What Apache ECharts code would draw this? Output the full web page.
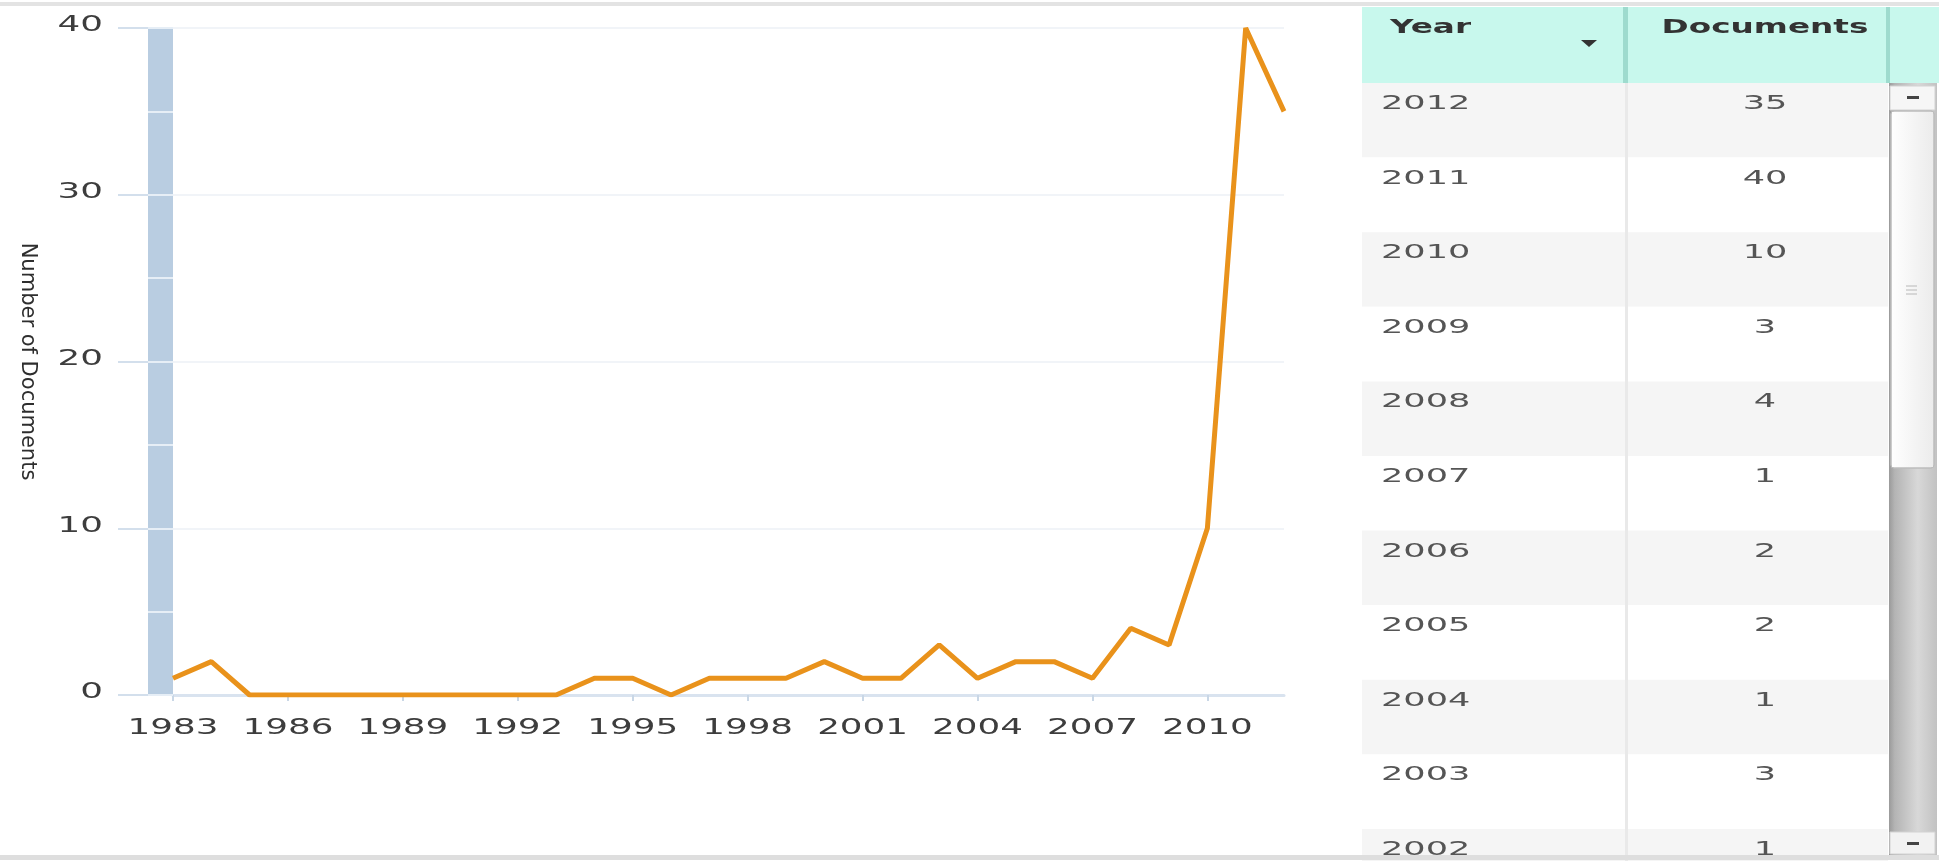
<!DOCTYPE html>
<html>
<head>
<meta charset="utf-8">
<script src="https://cdn.jsdelivr.net/npm/echarts@6/dist/echarts.min.js"></script>
<style>
html,body{margin:0;padding:0;background:#ffffff;}
#main{width:1939px;height:861px;}
</style>
</head>
<body>
<div id="main"></div>
<script>
const years = ['1983','1984','1985','1986','1987','1988','1989','1990','1991','1992',
  '1993','1994','1995','1996','1997','1998','1999','2000','2001','2002',
  '2003','2004','2005','2006','2007','2008','2009','2010','2011','2012'];
const documents = [1,2,0,0,0,0,0,0,0,0,
  0,1,1,0,1,1,1,2,1,1,
  3,1,2,2,1,4,3,10,40,35];
const xTickLabels = ['1983','1986','1989','1992','1995','1998','2001','2004','2007','2010'];
const yTickLabels = ['0','10','20','30','40'];
const tableHeaders = ['Year','Documents'];
const visibleRows = 11;

const FONT = 'DejaVu Sans';
const LABEL_SX = 1.7;
const chart = echarts.init(document.getElementById('main'));

// ---- table (drawn with graphic elements) ----
const T = {left:1362, top:7, headH:76, rowH:74.6, div:1626, right2:1888, right:1939};
const BODY_SX = 1.85, HEAD_SX = 1.72;
const g = [];
const rows = years.map((y,i)=>({year:y, doc:documents[i]})).reverse().slice(0, visibleRows);
rows.forEach((r,i)=>{
  const top = T.top + T.headH + i*T.rowH;
  g.push({type:'rect', shape:{x:T.left, y:top, width:T.right2-T.left, height:T.rowH},
    style:{fill: i%2===0 ? '#f5f5f5' : '#ffffff'}, z:1});
  g.push({type:'text', x:1381, y:top+21, scaleX:BODY_SX,
    style:{text:r.year, fontSize:19, fontFamily:FONT, fill:'#555', verticalAlign:'middle', align:'left'}, z:3});
  g.push({type:'text', x:1765, y:top+21, scaleX:BODY_SX,
    style:{text:String(r.doc), fontSize:19, fontFamily:FONT, fill:'#555', verticalAlign:'middle', align:'center'}, z:3});
});
g.push({type:'rect', shape:{x:T.div-1, y:T.top+T.headH, width:3, height:861-T.top-T.headH}, style:{fill:'#e9e9e9'}, z:2});
g.push({type:'rect', shape:{x:T.left, y:T.top, width:T.right-T.left, height:T.headH}, style:{fill:'#c8f8ed'}, z:4});
g.push({type:'rect', shape:{x:T.div-3, y:T.top, width:5, height:T.headH}, style:{fill:'#9edbce'}, z:5});
g.push({type:'rect', shape:{x:T.right2-2, y:T.top, width:4, height:T.headH}, style:{fill:'#9edbce'}, z:5});
g.push({type:'text', x:1390, y:28, scaleX:HEAD_SX,
  style:{text:tableHeaders[0], fontSize:19, fontWeight:'bold', fontFamily:FONT, fill:'#333', verticalAlign:'middle', align:'left'}, z:6});
g.push({type:'text', x:1765, y:28, scaleX:HEAD_SX,
  style:{text:tableHeaders[1], fontSize:19, fontWeight:'bold', fontFamily:FONT, fill:'#333', verticalAlign:'middle', align:'center'}, z:6});
g.push({type:'polygon', shape:{points:[[1581,40],[1597,40],[1589,47]]}, style:{fill:'#333'}, z:6});
// scrollbar
g.push({type:'rect', shape:{x:1889, y:83, width:48, height:773},
  style:{fill:new echarts.graphic.LinearGradient(0,0,1,0,[
    {offset:0,color:'#9a9a9a'},{offset:0.12,color:'#b4b4b4'},{offset:0.6,color:'#d8d8d8'},{offset:1,color:'#c2c2c2'}])}, z:4});
g.push({type:'rect', shape:{x:1890, y:86, width:45, height:24}, style:{fill:'#f6f6f6', stroke:'#d2d2d2', lineWidth:1}, z:5});
g.push({type:'rect', shape:{x:1907, y:96, width:12, height:3}, style:{fill:'#444'}, z:6});
g.push({type:'rect', shape:{x:1891, y:111, width:43, height:357, r:3},
  style:{fill:new echarts.graphic.LinearGradient(0,0,1,0,[{offset:0,color:'#ffffff'},{offset:1,color:'#ebebeb'}]), stroke:'#bcbcbc', lineWidth:1}, z:5});
[286,290,294].forEach(y=>g.push({type:'line', shape:{x1:1906,y1:y,x2:1917,y2:y}, style:{stroke:'#b8b8b8', lineWidth:1}, z:6}));
g.push({type:'rect', shape:{x:1890, y:832, width:45, height:22}, style:{fill:'#f2f2f2', stroke:'#d2d2d2', lineWidth:1}, z:5});
g.push({type:'rect', shape:{x:1907, y:842, width:12, height:3}, style:{fill:'#444'}, z:6});
// outer frame lines
g.push({type:'rect', shape:{x:0, y:2, width:1939, height:4}, style:{fill:'#e3e3e3'}, z:10});
g.push({type:'rect', shape:{x:0, y:855, width:1939, height:5}, style:{fill:'#dedede'}, z:10});

const Y_OFFSET = 25, Y_LABEL_MARGIN = 45, X_LABEL_CENTER_GAP = 34;

const option = {
  animation:false,
  backgroundColor:'#ffffff',
  textStyle:{fontFamily:FONT},
  grid:{left:173, right:655, top:28, bottom:166, containLabel:false},
  xAxis:{
    type:'category', data:years, boundaryGap:false,
    axisLine:{lineStyle:{color:'#d9e3ef', width:3}},
    axisTick:{interval:2, length:6, lineStyle:{color:'#c9d7e6', width:2}},
    axisLabel:{show:false, interval:2},
    splitLine:{show:false}
  },
  yAxis:[
    {type:'value', position:'left', min:Number(yTickLabels[0]), max:Number(yTickLabels[yTickLabels.length-1]), interval:10, offset:Y_OFFSET,
     name:'Number of Documents', nameLocation:'middle', nameRotate:-90, nameGap:110,
     nameTextStyle:{fontSize:21, color:'#2e2e2e'},
     axisLine:{show:false},
     axisTick:{show:true, length:30, lineStyle:{color:'#d3dfec', width:2}},
     axisLabel:{show:false},
     splitLine:{lineStyle:{color:'#f1f4f8', width:2}}},
    {type:'value', position:'left', min:0, max:40, offset:12.5,
     axisLine:{show:true, lineStyle:{color:'#b9cde1', width:25, cap:'butt'}},
     axisTick:{show:false}, axisLabel:{show:false}, splitLine:{show:false}},
    {type:'value', position:'left', min:0, max:40, interval:5, offset:0, z:3,
     axisLine:{show:false},
     axisTick:{show:true, length:25, lineStyle:{color:'#e6eef6', width:2}},
     axisLabel:{show:false}, splitLine:{show:false}}
  ],
  series:[{
    type:'line', name:'Documents', data:documents, yAxisIndex:0,
    symbol:'none', lineStyle:{color:'#e9921b', width:5}, itemStyle:{color:'#e9921b'}, z:5
  }],
  graphic:g
};
chart.setOption(option);

// tick labels placed through the axes' own scales, drawn horizontally widened like the source
const labels = [];
const zeroY = chart.convertToPixel({yAxisIndex:0}, 0);
xTickLabels.forEach(lbl=>{
  const px = chart.convertToPixel({xAxisIndex:0}, lbl);
  labels.push({type:'text', x:px, y:zeroY + X_LABEL_CENTER_GAP, scaleX:LABEL_SX,
    style:{text:lbl, fontSize:21, fontFamily:FONT, fill:'#3d3d3d', align:'center', verticalAlign:'middle'}, z:6});
});
const axisX = chart.convertToPixel({xAxisIndex:0}, years[0]) - Y_OFFSET;
yTickLabels.forEach(lbl=>{
  const py = chart.convertToPixel({yAxisIndex:0}, Number(lbl));
  labels.push({type:'text', x:axisX - Y_LABEL_MARGIN, y:py - 2, scaleX:LABEL_SX,
    style:{text:lbl, fontSize:21, fontFamily:FONT, fill:'#3d3d3d', align:'right', verticalAlign:'middle'}, z:6});
});
chart.setOption({graphic: g.concat(labels)});
</script>
</body>
</html>
